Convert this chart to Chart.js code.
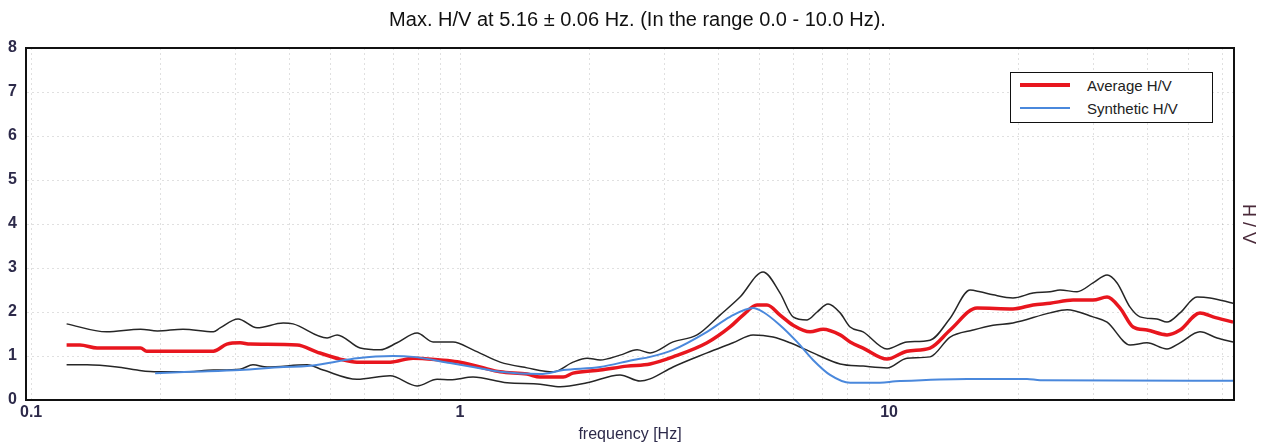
<!DOCTYPE html>
<html><head><meta charset="utf-8">
<script src="https://cdn.jsdelivr.net/npm/chart.js@4/dist/chart.umd.min.js"></script>
<style>
html,body{margin:0;padding:0;background:#fff;}
#wrap{position:relative;width:1275px;height:448px;}
#legend{position:absolute;left:1010px;top:72px;width:203px;height:51px;border:1.5px solid #111;background:#fff;font-family:"Liberation Sans",Arial,sans-serif;font-size:15px;color:#222;box-sizing:border-box;}
.row{position:absolute;left:0;height:20px;display:flex;align-items:center;white-space:nowrap;}
.sw{display:inline-block;width:50px;margin-left:9px;margin-right:17px;}
</style></head>
<body><div id="wrap"><canvas id="c" width="1275" height="448"></canvas><div id="legend"></div></div>
<script>
const chartTitle = 'Max. H/V at 5.16 ± 0.06 Hz. (In the range 0.0 - 10.0 Hz).';
const xTitle = 'frequency [Hz]';
const yTitle = 'H / V';
const xGridValues = [0.1,0.2,0.3,0.4,0.5,0.6,0.7,0.8,0.9,1,2,3,4,5,6,7,8,9,10,20,30,40,50,60];
const xLabelValues = [0.1,1,10];
const yMin = 0, yMax = 8;

const avgFreq = [0.121,0.130,0.1425,0.180,0.186,0.266,0.286,0.307,0.324,0.417,0.464,0.525,0.575,0.687,0.777,0.898,0.984,1.113,1.240,1.433,1.537,1.739,1.834,2.121,2.451,2.773,3.137,3.765,4.259,4.567,4.923,5.194,5.571,5.974,6.545,7.019,7.690,8.114,8.700,9.893,11.01,12.46,13.88,16.04,19.45,21.66,23.73,26.85,29.89,32.23,34.56,37.06,39.94,44.46,47.68,53.07,56.92,63.38];
const avgHV = [1.25,1.25,1.18,1.18,1.11,1.11,1.27,1.30,1.27,1.25,1.09,0.93,0.86,0.86,0.95,0.91,0.87,0.75,0.64,0.59,0.52,0.52,0.61,0.68,0.77,0.82,0.98,1.30,1.66,1.93,2.16,2.16,1.93,1.70,1.55,1.61,1.48,1.32,1.18,0.93,1.11,1.18,1.59,2.09,2.07,2.16,2.20,2.27,2.27,2.34,2.09,1.66,1.59,1.48,1.59,1.98,1.89,1.77];

const upperFreq = [0.121,0.150,0.180,0.197,0.226,0.266,0.2758,0.3037,0.3363,0.387,0.408,0.490,0.517,0.585,0.651,0.713,0.794,0.865,0.963,1.072,1.240,1.433,1.648,1.834,1.977,2.121,2.360,2.586,2.773,3.137,3.568,4.036,4.494,5.085,5.571,5.974,6.441,6.796,7.208,7.690,8.114,8.700,9.893,11.01,12.46,13.88,15.45,16.30,17.48,19.45,21.66,23.73,25.04,27.43,29.89,32.23,34.01,36.46,38.47,42.14,44.46,47.68,52.23,56.02,63.38];
const upperHV = [1.73,1.55,1.61,1.57,1.61,1.55,1.64,1.84,1.64,1.75,1.73,1.41,1.48,1.18,1.14,1.30,1.52,1.32,1.32,1.14,0.86,0.73,0.64,0.86,0.95,0.91,1.02,1.14,1.07,1.32,1.48,1.93,2.34,2.91,2.43,1.89,1.82,2.00,2.18,1.98,1.66,1.55,1.16,1.32,1.36,1.86,2.50,2.46,2.39,2.32,2.43,2.46,2.50,2.46,2.66,2.84,2.66,2.11,1.89,1.84,1.77,1.98,2.34,2.32,2.20];

const lowerFreq = [0.121,0.135,0.1586,0.1767,0.197,0.226,0.266,0.307,0.329,0.355,0.440,0.4795,0.575,0.687,0.794,0.884,0.948,1.072,1.287,1.537,1.711,1.977,2.360,2.628,2.773,3.137,3.765,4.328,4.819,5.366,5.879,6.65,7.690,8.700,9.893,11.01,12.46,13.88,15.70,17.48,19.45,23.73,26.00,29.89,32.23,36.46,39.94,44.46,47.68,53.07,58.17,63.38];
const lowerHV = [0.80,0.80,0.75,0.68,0.64,0.64,0.68,0.70,0.80,0.75,0.80,0.68,0.47,0.55,0.32,0.47,0.46,0.52,0.39,0.36,0.30,0.39,0.57,0.43,0.48,0.75,1.07,1.30,1.48,1.43,1.30,1.07,0.82,0.77,0.73,0.95,0.98,1.43,1.59,1.70,1.75,1.98,2.05,1.89,1.77,1.25,1.30,1.16,1.30,1.55,1.41,1.32];

const synFreq = [0.1946,0.2348,0.307,0.387,0.440,0.5058,0.575,0.698,0.777,0.948,1.072,1.240,1.537,1.739,2.121,2.532,2.773,3.137,3.765,4.259,4.819,5.085,5.571,6.103,6.65,7.286,8.114,9.178,10.61,15.20,20.97,22.49,63.38];
const synHV = [0.61,0.64,0.68,0.75,0.77,0.86,0.95,1.00,0.98,0.84,0.75,0.64,0.59,0.68,0.75,0.91,0.98,1.14,1.55,1.89,2.09,2.00,1.70,1.32,0.91,0.57,0.39,0.39,0.43,0.48,0.48,0.45,0.44];

const pts = (fs, vs) => fs.map((f, i) => ({x: f, y: vs[i]}));
const FONT = '"Liberation Sans", Arial, sans-serif';
const tickColor = '#2d2a4a';
const gridColor = 'rgba(0,0,0,0.12)';

const framePlugin = {
  id: 'frame',
  afterDraw(chart) {
    const a = chart.chartArea, ctx = chart.ctx;
    ctx.save();
    ctx.strokeStyle = '#111';
    ctx.lineWidth = 2;
    ctx.strokeRect(a.left, a.top, a.right - a.left, a.bottom - a.top);
    ctx.restore();
  }
};

const chart = new Chart(document.getElementById('c'), {
  type: 'line',
  data: {
    datasets: [
      {label: 'Synthetic H/V', data: pts(synFreq, synHV), borderColor: '#4a88dc', borderWidth: 2, order: 0, legend: true},
      {label: 'Average H/V', data: pts(avgFreq, avgHV), borderColor: '#e8161e', borderWidth: 3.5, order: 1, legend: true},
      {label: 'Upper', data: pts(upperFreq, upperHV), borderColor: '#262626', borderWidth: 1.5, order: 2},
      {label: 'Lower', data: pts(lowerFreq, lowerHV), borderColor: '#262626', borderWidth: 1.5, order: 3}
    ]
  },
  options: {
    responsive: false,
    animation: false,
    layout: {padding: 0},
    elements: {point: {radius: 0}, line: {cubicInterpolationMode: 'monotone', fill: false}},
    plugins: {
      legend: {display: false},
      tooltip: {enabled: false},
      title: {display: true, text: chartTitle, color: '#111', font: {family: FONT, size: 20, weight: 'normal'}, padding: {top: 8, bottom: 16}}
    },
    scales: {
      x: {
        type: 'logarithmic', position: 'bottom', min: 0.0973, max: 63.7,
        afterBuildTicks: s => { s.ticks = xGridValues.map(v => ({value: v})); },
        afterFit: s => { s.height = 48; },
        ticks: {autoSkip: false, maxRotation: 0, padding: 3, color: tickColor, font: {family: FONT, size: 16, weight: 'bold'},
          callback: v => xLabelValues.includes(v) ? String(v) : ''},
        grid: {color: gridColor, drawTicks: false, lineWidth: 1},
        border: {display: true, color: '#111', width: 2, dash: [2, 3]},
        title: {display: true, text: xTitle, color: tickColor, font: {family: FONT, size: 16}, padding: {top: 0, bottom: 3.4}}
      },
      y: {
        type: 'linear', position: 'left', min: yMin, max: yMax,
        afterFit: s => { s.width = 26; },
        ticks: {stepSize: 1, padding: 9, color: tickColor, font: {family: FONT, size: 16, weight: 'bold'}},
        grid: {color: gridColor, drawTicks: false, lineWidth: 1},
        border: {display: true, color: '#111', width: 2, dash: [2, 3]}
      },
      y2: {
        type: 'linear', position: 'right', min: yMin, max: yMax,
        afterFit: s => { s.width = 41; },
        ticks: {display: false},
        grid: {display: false, drawTicks: false},
        border: {display: true, color: '#111', width: 2},
        title: {display: true, text: yTitle, color: '#4a2a3a', font: {family: FONT, size: 18}, padding: {top: 16}}
      }
    }
  },
  plugins: [framePlugin]
});

// HTML legend built from the chart's datasets
const legendEl = document.getElementById('legend');
const legendItems = chart.data.datasets.filter(d => d.legend).sort((a, b) => b.order - a.order);
legendItems.forEach((d, i) => {
  const row = document.createElement('div');
  row.className = 'row';
  row.style.top = (2 + i * 23) + 'px';
  const sw = document.createElement('span');
  sw.className = 'sw';
  sw.style.height = (d.borderWidth >= 3 ? 4 : 2.5) + 'px';
  sw.style.background = d.borderColor;
  const tx = document.createElement('span');
  tx.textContent = d.label;
  row.appendChild(sw); row.appendChild(tx);
  legendEl.appendChild(row);
});
</script>
</body></html>
